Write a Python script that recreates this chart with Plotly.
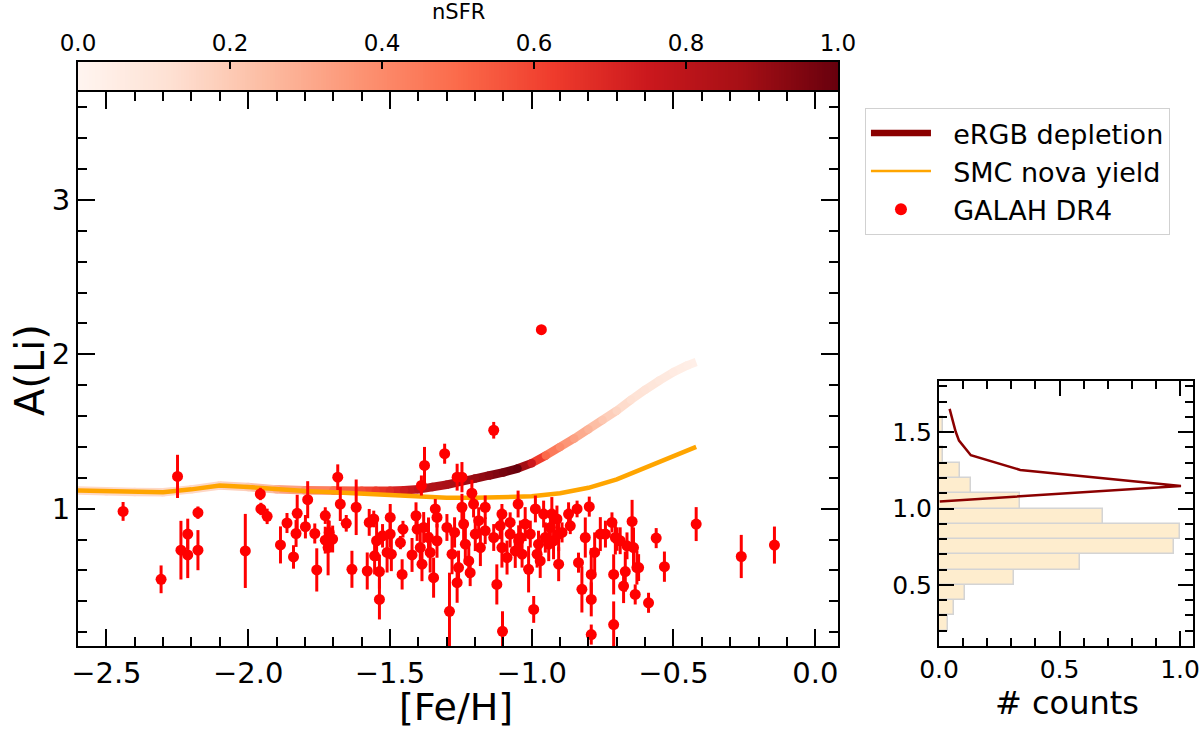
import numpy as np
import plotly.graph_objects as go
from plotly.colors import sample_colorscale

# ---------------- data ----------------
# eRGB depletion track: [Fe/H], A(Li), normalised SFR
ergb_feh = [-2.6, -2.5, -2.4, -2.3, -2.2, -2.1, -2.0, -1.9, -1.8, -1.7, -1.6, -1.55, -1.5, -1.45,
            -1.4, -1.35, -1.3, -1.25, -1.2, -1.15, -1.1, -1.05, -1.0, -0.95, -0.9, -0.85, -0.8,
            -0.75, -0.7, -0.65, -0.6, -0.55, -0.5, -0.45, -0.42]
ergb_ali = [1.118, 1.113, 1.108, 1.106, 1.125, 1.15, 1.14, 1.125, 1.12, 1.118, 1.116, 1.116, 1.116,
            1.119, 1.125, 1.14, 1.155, 1.175, 1.195, 1.215, 1.235, 1.26, 1.295, 1.345, 1.40, 1.455,
            1.515, 1.575, 1.635, 1.705, 1.77, 1.83, 1.885, 1.93, 1.95]
ergb_nsfr = [0.15, 0.15, 0.15, 0.15, 0.15, 0.16, 0.2, 0.28, 0.38, 0.48, 0.58, 0.63, 0.68, 0.74,
             0.8, 0.84, 0.86, 0.88, 0.9, 0.93, 0.97, 1.0, 0.75, 0.5, 0.4, 0.33, 0.27, 0.21, 0.16,
             0.12, 0.1, 0.08, 0.06, 0.04, 0.03]

# SMC nova yield track
nova_feh = [-2.6, -2.5, -2.4, -2.3, -2.2, -2.1, -2.0, -1.9, -1.8, -1.7, -1.6, -1.5, -1.4, -1.3,
            -1.2, -1.1, -1.0, -0.9, -0.8, -0.7, -0.6, -0.5, -0.42]
nova_ali = [1.118, 1.113, 1.108, 1.106, 1.125, 1.15, 1.14, 1.125, 1.115, 1.107, 1.097, 1.087,
            1.076, 1.07, 1.07, 1.072, 1.08, 1.10, 1.135, 1.19, 1.265, 1.335, 1.40]

# GALAH DR4 stars: [Fe/H], A(Li), error
galah_feh = [-2.441, -2.249, -2.307, -2.237, -2.213, -2.213, -2.177, -2.177, -2.010, -1.957, -1.955,
             -1.933, -1.886,
             -1.863, -1.840, -1.831, -1.827, -1.798, -1.790, -1.765, -1.758, -1.728, -1.728, -1.718,
             -1.714, -1.702, -1.684, -1.675, -1.654, -1.634, -1.619, -1.580, -1.573, -1.557, -1.554,
             -1.547, -1.537, -1.537, -1.526, -1.510, -1.499, -1.499, -1.495, -1.463, -1.457, -1.454,
             -1.422, -1.408, -1.404,
             -1.378, -1.307, -1.134, -1.389, -1.263, -1.246, -1.211, -1.381, -1.393, -1.387, -1.364,
             -1.358, -1.346, -1.340, -1.334, -1.334, -1.299, -1.290, -1.281, -1.272, -1.263, -1.258,
             -1.246, -1.240, -1.234, -1.222, -1.217, -1.205, -1.199, -1.187, -1.181, -1.164, -1.164,
             -1.134, -1.123, -1.105, -1.111, -1.105, -1.103, -1.087, -1.076, -1.076, -1.058, -1.048,
             -1.046,
             -1.040, -1.034, -1.023, -1.011, -1.005, -0.993, -0.987, -0.981, -0.976, -0.970, -0.958,
             -0.952, -0.940, -0.934, -0.929, -0.923, -0.911, -0.905, -0.905, -0.893, -0.870, -0.864,
             -0.840, -0.835, -0.823, -0.811, -0.797, -0.790, -0.790, -0.790, -0.778, -0.758, -0.740,
             -0.717, -0.711, -0.711, -0.705,
             -0.699, -0.688, -0.676, -0.670, -0.664, -0.646, -0.641, -0.635, -0.629, -0.623, -0.588,
             -0.561, -0.532, -0.420, -0.261, -0.144,
             -0.966]
galah_ali = [0.982, 1.209, 0.542, 0.731, 0.835, 0.700, 0.974, 0.731, 0.726, 1.095, 0.998,
             0.950, 0.765,
             0.907, 0.687, 0.839, 0.970, 0.883, 1.058, 0.839, 0.603, 0.955, 0.796, 0.748,
             0.846, 0.803, 1.204, 1.030, 0.905, 0.607, 1.009, 0.596, 0.911, 0.933, 0.694,
             0.792, 0.412, 0.592, 0.824, 0.716, 0.943, 0.835, 0.705, 0.780, 0.574, 0.867,
             0.700, 0.954, 0.867,
             1.280, 1.356, 1.508, 1.150, 1.204, 1.204, 1.100, 0.878, 0.748, 0.640, 0.813,
             0.716, 0.553, 0.998, 0.943, 0.792, 0.878, 0.335, 0.705, 0.846, 0.520, 0.618,
             1.009, 0.900, 0.770, 0.661, 0.585, 1.030, 0.835, 0.922, 0.748, 1.009, 0.857,
             0.813, 0.509, 0.965, 0.889, 0.748, 0.205, 0.683, 0.911, 0.835, 0.726, 1.030,
             0.792,
             0.813, 0.705, 0.900, 0.607, 0.835, 0.347, 0.998, 0.705, 0.770, 0.661, 0.965,
             0.813, 0.770, 0.878, 0.965, 0.792, 0.933, 0.640, 0.835, 0.846, 0.965, 0.889,
             0.998, 0.650, 0.477, 0.813, 1.013, 0.574, 0.412, 0.184, 0.716, 0.835, 0.835,
             0.911, 0.574, 0.249, 0.813,
             0.803, 0.792, 0.498, 0.592, 0.759, 0.917, 0.748, 0.444, 0.618, 0.618, 0.390,
             0.809, 0.624, 0.900, 0.690, 0.764,
             2.160]
galah_err = [0.061, 0.14, 0.09, 0.19, 0.10, 0.15, 0.04, 0.13, 0.24, 0.04, 0.04,
             0.05, 0.12,
             0.065, 0.076, 0.087, 0.12, 0.076, 0.12, 0.065, 0.14, 0.054, 0.087, 0.18,
             0.076, 0.087, 0.083, 0.11, 0.054, 0.12, 0.18, 0.12, 0.087, 0.054, 0.12,
             0.13, 0.13, 0.11, 0.076, 0.13, 0.087, 0.087, 0.11, 0.043, 0.098, 0.054,
             0.11, 0.087, 0.076,
             0.12, 0.065, 0.054, 0.065, 0.087, 0.098, 0.087, 0.10, 0.10, 0.11, 0.13,
             0.13, 0.13, 0.065, 0.065, 0.11, 0.087, 0.25, 0.13, 0.098, 0.13, 0.11,
             0.087, 0.11, 0.13, 0.11, 0.087, 0.087, 0.11, 0.087, 0.12, 0.076, 0.087,
             0.087, 0.13, 0.065, 0.087, 0.13, 0.13, 0.11, 0.065, 0.087, 0.11, 0.087,
             0.10,
             0.11, 0.087, 0.11, 0.15, 0.087, 0.087, 0.087, 0.087, 0.087, 0.11, 0.087,
             0.098, 0.11, 0.098, 0.11, 0.12, 0.087, 0.11, 0.11, 0.065, 0.076, 0.054,
             0.054, 0.065, 0.15, 0.13, 0.065, 0.17, 0.11, 0.065, 0.13, 0.11, 0.087,
             0.065, 0.13, 0.15, 0.11,
             0.076, 0.087, 0.11, 0.13, 0.087, 0.14, 0.13, 0.065, 0.11, 0.087, 0.065,
             0.065, 0.098, 0.11, 0.14, 0.12,
             0.01]

# Histogram of GALAH A(Li) (normalised counts), bin centres
hist_ali = [0.25, 0.35, 0.45, 0.55, 0.65, 0.75, 0.85, 0.95, 1.05, 1.15, 1.25, 1.35, 1.45, 1.55]
hist_cnt = [0.039, 0.064, 0.109, 0.313, 0.587, 0.976, 1.0, 0.68, 0.338, 0.132, 0.086, 0.017, 0.0, 0.017]

# eRGB model distribution (normalised)
model_cnt = [0.044, 0.069, 0.083, 0.132, 0.337, 1.004, 0.003]
model_ali = [1.653, 1.504, 1.445, 1.349, 1.253, 1.148, 1.046]

FONT = "DejaVu Sans"
fig = go.Figure()

# ---------- eRGB gradient track ----------
seg_vals = [(ergb_nsfr[i] + ergb_nsfr[i + 1]) / 2 for i in range(len(ergb_feh) - 1)]
seg_cols = sample_colorscale("Reds", seg_vals)
for i in range(len(ergb_feh) - 1):
    fig.add_trace(go.Scatter(x=[ergb_feh[i], ergb_feh[i + 1]], y=[ergb_ali[i], ergb_ali[i + 1]],
                             mode="lines", line=dict(color=seg_cols[i], width=8.5),
                             showlegend=False, hoverinfo="skip"))
joint_cols = sample_colorscale("Reds", ergb_nsfr[1:-1])
fig.add_trace(go.Scatter(x=ergb_feh[1:-1], y=ergb_ali[1:-1], mode="markers",
                         marker=dict(size=8.5, color=joint_cols, line=dict(width=0)),
                         showlegend=False, hoverinfo="skip"))

# ---------- nova yield ----------
fig.add_trace(go.Scatter(x=nova_feh, y=nova_ali, mode="lines",
                         line=dict(color="orange", width=4.5), showlegend=False))

# ---------- GALAH points ----------
fig.add_trace(go.Scatter(x=galah_feh, y=galah_ali, mode="markers",
                         marker=dict(color="red", size=11, line=dict(width=0)),
                         error_y=dict(type="data", array=galah_err, color="red", thickness=3, width=0),
                         showlegend=False))

# ---------- legend proxies ----------
NB = "\u00a0\u00a0"
fig.add_trace(go.Scatter(x=[None], y=[None], mode="lines", name=NB + "eRGB depletion",
                         line=dict(color="#8b0000", width=6.5)))
fig.add_trace(go.Scatter(x=[None], y=[None], mode="lines", name=NB + "SMC nova yield",
                         line=dict(color="orange", width=2.5)))
fig.add_trace(go.Scatter(x=[None], y=[None], mode="markers", name=NB + "GALAH DR4",
                         marker=dict(color="red", size=12)))

# ---------- inset histogram ----------
fig.add_trace(go.Bar(y=hist_ali, x=hist_cnt, orientation="h", width=0.1,
                     marker=dict(color="rgb(254,237,206)", line=dict(color="rgb(212,212,212)", width=1.5)),
                     xaxis="x2", yaxis="y2", showlegend=False))
fig.add_trace(go.Scatter(x=model_cnt, y=model_ali, mode="lines", line=dict(color="#8b0000", width=2.5),
                         xaxis="x2", yaxis="y2", showlegend=False))

# ---------- colour bar ----------
cb = np.linspace(0, 1, 300)
fig.add_trace(go.Heatmap(z=[cb], x=cb, y=[0.5], colorscale="Reds", zmin=0, zmax=1, showscale=False,
                         xaxis="x3", yaxis="y3", hoverinfo="skip"))

common = dict(showline=True, linecolor="black", linewidth=2, ticks="inside", tickcolor="black",
              tickwidth=2, showgrid=False, zeroline=False, mirror="allticks", automargin=False,
              tickfont=dict(family=FONT, size=29, color="black"))
inset_font = dict(family=FONT, size=25, color="black")

fig.update_layout(
    width=1200, height=732, margin=dict(l=0, r=0, t=0, b=0, autoexpand=False),
    plot_bgcolor="white", paper_bgcolor="white",
    font=dict(family=FONT, color="black"),
    xaxis=dict(domain=[0.065, 0.6983], range=[-2.6, 0.08], dtick=0.5, tick0=0, tickformat=".1f",
               ticklen=17, minor=dict(dtick=0.1, ticks="inside", ticklen=9, tickwidth=1.5, tickcolor="black"),
               anchor="y", **common),
    yaxis=dict(domain=[0.1175, 0.8743], range=[0.11, 3.70], dtick=1, tick0=0, tickformat="d",
               ticklen=17, minor=dict(dtick=0.2, ticks="inside", ticklen=9, tickwidth=1.5, tickcolor="black"),
               anchor="x", **common),
    xaxis2=dict(domain=[0.7825, 0.9942], range=[0, 1.054], dtick=0.5, tick0=0, tickformat=".1f",
                ticklen=15, minor=dict(dtick=0.1, ticks="inside", ticklen=8, tickwidth=1.5, tickcolor="black"),
                anchor="y2", **{**common, "tickfont": inset_font}),
    yaxis2=dict(domain=[0.1175, 0.4795], range=[0.10, 1.835], dtick=0.5, tick0=0, tickformat=".1f",
                ticklen=15, minor=dict(dtick=0.1, ticks="inside", ticklen=8, tickwidth=1.5, tickcolor="black"),
                anchor="x2", **{**common, "tickfont": inset_font}),
    xaxis3=dict(domain=[0.065, 0.6983], range=[0, 1], dtick=0.2, tick0=0, tickformat=".1f", side="top",
                showline=True, linecolor="black", linewidth=1.5, mirror=True, ticks="inside", ticklen=7,
                tickwidth=1.5, tickcolor="black", showgrid=False, zeroline=False, anchor="y3", automargin=False,
                tickfont=dict(family=FONT, size=23, color="black")),
    yaxis3=dict(domain=[0.877, 0.9153], range=[0, 1], showticklabels=False, ticks="", showline=True,
                linecolor="black", linewidth=1.5, mirror=True, showgrid=False, zeroline=False, anchor="x3",
                automargin=False),
    legend=dict(x=0.7208, y=0.8525, xanchor="left", yanchor="top", bgcolor="white",
                bordercolor="rgba(0,0,0,0.18)", borderwidth=1, itemwidth=60,
                font=dict(family=FONT, size=27, color="black")),
    bargap=0,
    annotations=[
        dict(text="[Fe/H]", x=0.38, y=0.034, xref="paper", yref="paper", showarrow=False,
             xanchor="center", yanchor="middle", font=dict(family=FONT, size=38)),
        dict(text="A(Li)", x=0.025, y=0.4945, xref="paper", yref="paper", showarrow=False, textangle=-90,
             xanchor="center", yanchor="middle", font=dict(family=FONT, size=40)),
        dict(text="# counts", x=0.889, y=0.039, xref="paper", yref="paper", showarrow=False,
             xanchor="center", yanchor="middle", font=dict(family=FONT, size=32)),
        dict(text="nSFR", x=0.382, y=0.9836, xref="paper", yref="paper", showarrow=False,
             xanchor="center", yanchor="middle", font=dict(family=FONT, size=21)),
    ],
)

fig.write_html("out.html")
